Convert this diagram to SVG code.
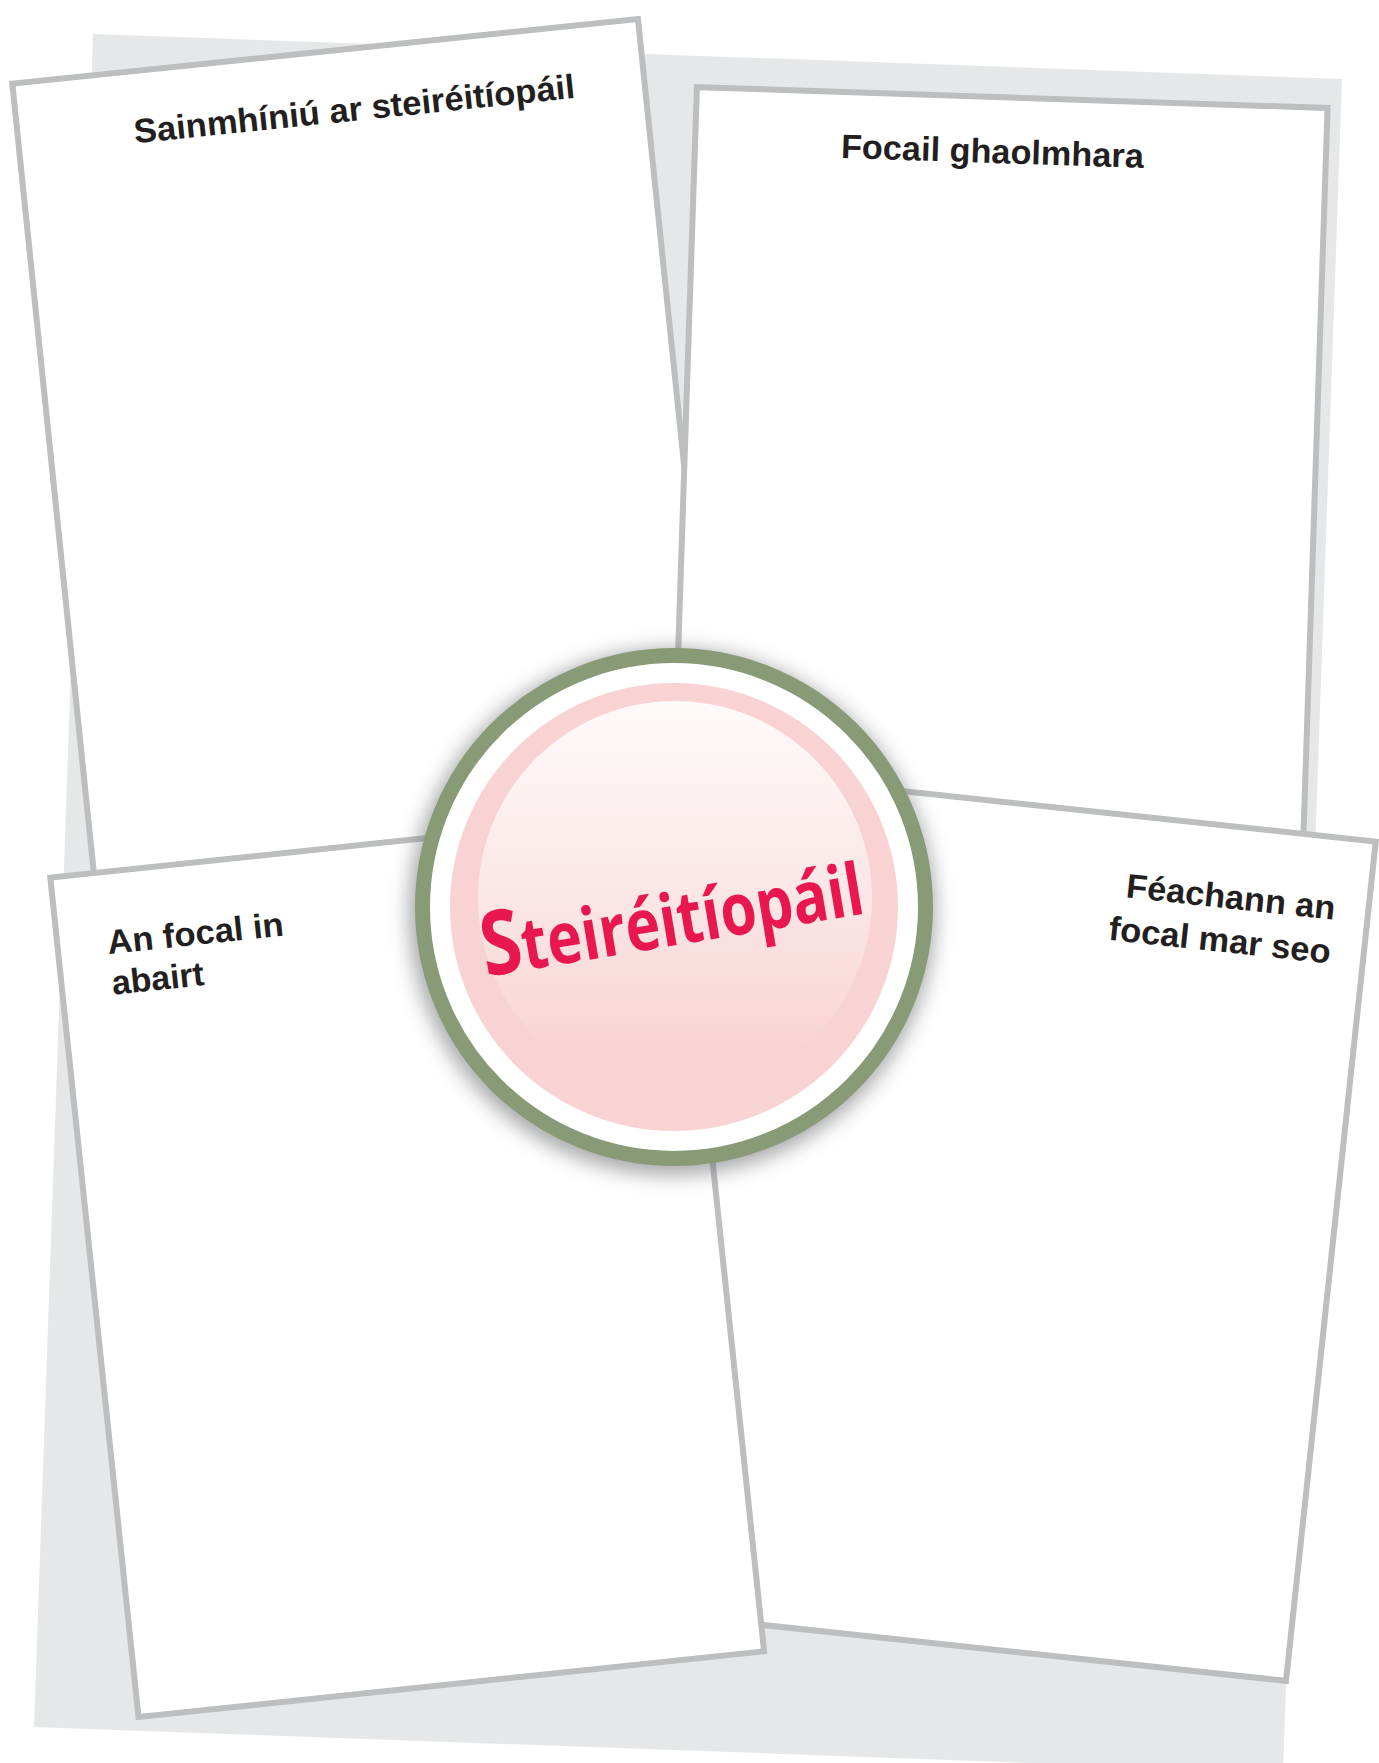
<svg xmlns="http://www.w3.org/2000/svg" width="1379" height="1763" viewBox="0 0 1379 1763">
  <defs>
    <style>
      .card { fill: #ffffff; stroke: #bcbec0; stroke-width: 6; stroke-linejoin: miter; }
      .title { font-family: "Liberation Sans", Arial, sans-serif; font-weight: 700; font-size: 34px; fill: #231f20; }
      .word { font-family: "Open Sans", "Liberation Sans", sans-serif; font-weight: 700; fill: #e9174f; }
    </style>
    <filter id="soft" x="-20%" y="-20%" width="140%" height="140%">
      <feGaussianBlur stdDeviation="10"/>
    </filter>
    <linearGradient id="gloss" x1="0" y1="0" x2="0" y2="1">
      <stop offset="0" stop-color="#fefafa"/>
      <stop offset="0.45" stop-color="#fbe8e8"/>
      <stop offset="0.88" stop-color="#f9d4d4"/>
      <stop offset="1" stop-color="#f9d3d3"/>
    </linearGradient>
  </defs>

  <rect width="1379" height="1763" fill="#ffffff"/>

  <g id="background">
    <polygon points="93,34 1342,79 1283,1772 34,1727" fill="#e6e7e8"/>
  </g>

  <g id="card-definition" transform="translate(9,81) rotate(-5.9)">
    <rect class="card" x="3" y="3" width="629" height="844"/>
    <text class="title" x="119" y="75" textLength="443" lengthAdjust="spacingAndGlyphs">Sainmhíniú ar steiréitíopáil</text>
  </g>

  <g id="card-related" transform="translate(694,84) rotate(1.9)">
    <rect class="card" x="3" y="3" width="631" height="844"/>
    <text class="title" x="149" y="69" textLength="303" lengthAdjust="spacingAndGlyphs">Focail ghaolmhara</text>
  </g>

  <g id="card-looks" transform="translate(747.6,771.5) rotate(6.1)">
    <rect class="card" x="3" y="3" width="629" height="844"/>
    <text class="title" x="389" y="85" textLength="210" lengthAdjust="spacingAndGlyphs">Féachann an</text>
    <text class="title" x="376" y="129" textLength="223" lengthAdjust="spacingAndGlyphs">focal mar seo</text>
  </g>

  <g id="card-sentence" transform="translate(47,875) rotate(-6)">
    <rect class="card" x="3" y="3" width="629" height="844"/>
    <text class="title" x="53" y="85" textLength="177" lengthAdjust="spacingAndGlyphs">An focal in</text>
    <text class="title" x="53" y="126">abairt</text>
  </g>

  <g id="connectors"/>

  <g id="center-node">
    <circle cx="672" cy="912" r="263" fill="#6d6e71" opacity="0.6" filter="url(#soft)"/>
    <circle cx="674" cy="907" r="251.5" fill="#ffffff" stroke="#899a76" stroke-width="15"/>
    <circle cx="674" cy="907" r="224" fill="#f9d3d3"/>
    <circle cx="675" cy="898" r="197" fill="url(#gloss)"/>
    <text class="word" x="486" y="977" font-size="72" textLength="386" lengthAdjust="spacingAndGlyphs" transform="rotate(-9.5 486 977)"><tspan font-size="90">S</tspan>teiréitíopáil</text>
  </g>
</svg>
